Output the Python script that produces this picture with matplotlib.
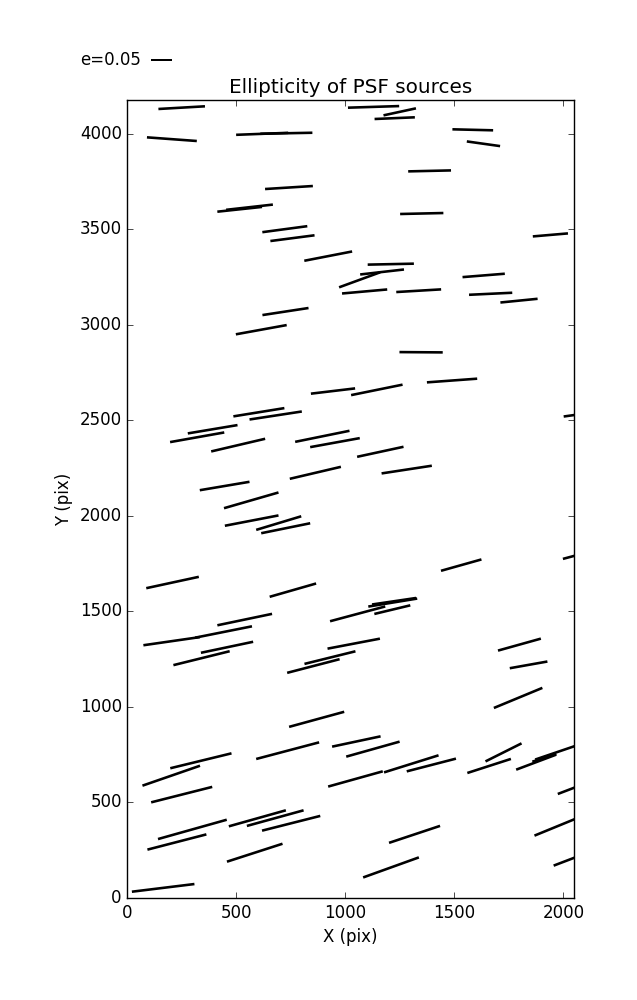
import numpy as np
import matplotlib
matplotlib.use('Agg')
import matplotlib.pyplot as plt

plt.style.use('classic')

# source positions (pix), ellipticity and position angle (deg)
x = [249, 204, 618, 729, 741, 515, 560, 722, 757, 921, 725, 614,
     1129, 1249, 1226, 1584, 1633, 1386, 1350, 1940, 1208, 1168, 1065, 1088,
     1336, 1634, 1666, 1796, 1347, 943, 603, 680, 391, 320, 508, 894,
     952, 446, 862, 568, 570, 694, 726, 207, 759, 538, 1144, 1489,
     2103, 1160, 1281, 1531, 2097, 1056, 1217, 1223, 1215, 203, 441, 457,
     340, 1038, 929, 853, 868, 735, 337, 201, 249, 1050, 1126, 1046,
     298, 227, 596, 678, 751, 584, 164, 1798, 1840, 1792, 1302, 1394,
     1659, 1725, 1875, 1912, 1985, 2081, 1317, 1209, 1973, 2062]
y = [4136, 3971, 3999, 4002, 3718, 3604, 3615, 3500, 3453, 3359, 3069, 2974,
     4140, 4114, 4081, 4020, 3947, 3805, 3582, 3470, 3317, 3276, 3235, 3174,
     3178, 3258, 3162, 3126, 2856, 2653, 2542, 2525, 2453, 2411, 2370, 2416,
     2383, 2156, 2225, 2081, 1975, 1962, 1935, 1651, 1611, 1457, 2659, 2708,
     2536, 2335, 2242, 1742, 1805, 1487, 1546, 1553, 1509, 1344, 1392, 1312,
     1255, 1331, 1258, 1214, 935, 771, 718, 640, 541, 819, 779, 623,
     359, 293, 417, 418, 391, 237, 53, 1326, 1220, 1047, 702, 696,
     691, 762, 711, 734, 769, 591, 333, 160, 376, 216]
e = [0.111, 0.119, 0.124, 0.124, 0.114, 0.107, 0.112, 0.108, 0.106, 0.116, 0.111, 0.123,
     0.122, 0.079, 0.096, 0.097, 0.080, 0.102, 0.103, 0.084, 0.110, 0.105, 0.104, 0.108,
     0.107, 0.101, 0.103, 0.089, 0.103, 0.106, 0.123, 0.126, 0.120, 0.131, 0.132, 0.132,
     0.120, 0.120, 0.125, 0.135, 0.130, 0.112, 0.119, 0.128, 0.115, 0.133, 0.125, 0.120,
     0.107, 0.113, 0.121, 0.100, 0.107, 0.136, 0.118, 0.106, 0.088, 0.136, 0.138, 0.127,
     0.138, 0.127, 0.125, 0.129, 0.136, 0.155, 0.150, 0.145, 0.150, 0.118, 0.132, 0.135,
     0.170, 0.145, 0.141, 0.140, 0.143, 0.139, 0.150, 0.106, 0.091, 0.125, 0.136, 0.121,
     0.109, 0.096, 0.102, 0.060, 0.126, 0.119, 0.128, 0.141, 0.119, 0.119]
theta = [3.3, -4.2, 2.2, 1.1, 3.6, 6.1, 6.4, 7.6, 7.4, 11.0, 8.7, 10.3,
         1.8, 12.2, 2.4, -1.4, -8.0, 1.3, 1.3, 4.9, 1.2, 6.5, 20.1, 5.1,
         3.4, 4.6, 2.7, 5.7, -0.4, 6.8, 9.2, 8.7, 9.5, 10.1, 13.2, 11.5,
         10.3, 9.6, 13.2, 16.1, 10.9, 16.8, 11.5, 12.2, 16.0, 11.8, 11.5, 4.2,
         8.0, 12.2, 8.7, 15.7, 15.0, 15.0, 9.3, 8.4, 13.5, 8.2, 11.3, 11.9,
         13.9, 10.8, 13.9, 14.6, 15.3, 14.8, 13.7, 19.1, 14.2, 12.0, 15.7, 15.6,
         15.7, 14.5, 15.7, 15.4, 14.2, 17.9, 7.0, 15.6, 10.1, 22.5, 17.4, 14.5,
         17.9, 26.6, 20.6, 18.4, 18.8, 20.9, 18.4, 19.8, 22.3, 20.9]

x = np.array(x)
y = np.array(y)
e = np.array(e)
t = np.radians(theta)
u = e * np.cos(t)
v = e * np.sin(t)

fig = plt.figure(figsize=(6.37, 10))
ax = fig.add_axes([0.2, 0.102, 0.701, 0.798])

# headless arrows -> sticks centred on each source
q = ax.quiver(x, y, u, v, color='k', pivot='middle',
              headwidth=0, headlength=0, headaxislength=0,
              scale=0.05 / 0.21, scale_units='inches',
              units='inches', width=0.026)
plt.quiverkey(q, 0.237, 0.94, 0.05, 'e=0.05', labelpos='W',
              coordinates='figure')

ax.set_xlim(0, 2048)
ax.set_ylim(0, 4176)
ax.set_xticks([0, 500, 1000, 1500, 2000])
ax.set_title('Ellipticity of PSF sources')
ax.set_xlabel('X (pix)')
ax.set_ylabel('Y (pix)')

fig.savefig('out.png', dpi=100, facecolor='white')
